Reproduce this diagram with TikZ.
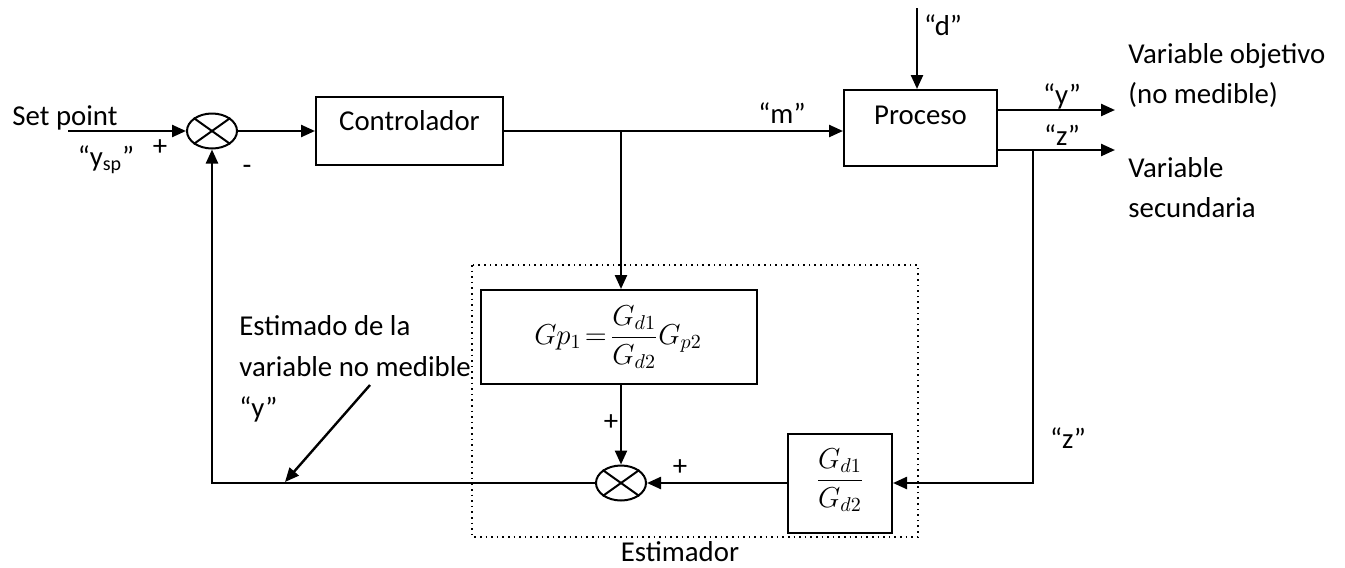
\documentclass[tikz,border=0pt]{standalone}
\usepackage{amsmath}
\usepackage{fontspec}
\setmainfont{Carlito}
\usetikzlibrary{arrows.meta,shapes.geometric}

\tikzset{
  bloque/.style={draw, line width=1pt, rectangle, inner sep=0pt},
  suma/.style={draw, line width=1pt, ellipse, minimum width=25pt, minimum height=17.5pt, inner sep=0pt},
  senal/.style={line width=1.2pt},
  flecha/.style={senal, -{Triangle[length=7pt,width=6pt]}},
  texto/.style={font=\fontsize{14.4}{17}\selectfont, inner sep=0pt},
}

\begin{document}
\begin{tikzpicture}[x=0.5pt, y=-0.5pt]
    \useasboundingbox (0,0) rectangle (1345,568);

    % Bloques
    \node[bloque, minimum width=93.5pt, minimum height=34pt] (ctrl) at (409.5,131) {};
    \node[bloque, minimum width=76.5pt, minimum height=38pt] (proc) at (920.5,128) {};
    \node[bloque, minimum width=138pt, minimum height=47pt] (gp) at (619,337) {};
    \node[bloque, minimum width=52pt, minimum height=49.5pt] (gd) at (840,483) {};

    % Sumadores
    \node[suma] (s1) at (212,131) {};
    \node[suma] (s2) at (621,483) {};
    \draw[line width=1pt] (s1.north west) -- (s1.south east) (s1.north east) -- (s1.south west);
    \draw[line width=1pt] (s2.north west) -- (s2.south east) (s2.north east) -- (s2.south west);

    % Puntos auxiliares
    \coordinate (sp) at (68,131);
    \coordinate (bm) at (621,131);
    \coordinate (dent) at (917,8);
    \coordinate (ysal) at (1115,110);
    \coordinate (zsal) at (1115,150);
    \coordinate (bz) at (1033,150);
    \coordinate (pt0) at (370,385);
    \coordinate (pt1) at (285,482);

    % Lazo principal
    \draw[flecha] (sp) -- (s1.west);
    \draw[flecha] (s1.east) -- (s1.east -| ctrl.west);
    \draw[flecha] (ctrl.east |- bm) -- (bm -| proc.west);
    \draw[flecha] (dent) -- (dent |- proc.north);
    \draw[flecha] (proc.east |- ysal) -- (ysal);
    \draw[flecha] (proc.east |- zsal) -- (zsal);

    % Estimador
    \draw[flecha] (bm) -- (bm |- gp.north);
    \draw[flecha] (gp.south -| s2) -- (s2.north);
    \draw[flecha] (bz) |- (gd.east);
    \draw[flecha] (gd.west) -- (s2.east);
    \draw[flecha] (s2.west) -| (s1.south);
    \draw[flecha] (pt0) -- (pt1);
    \draw[dotted, line width=0.8pt] (472,265) rectangle (918,537);

    % Textos
    \node[texto] (ctrltxt) at (409.5,121) {Controlador};
    \node[texto] (proctxt) at (920.5,115) {Proceso};
    \node[texto] (gptxt) at (618,337) {$Gp_1\!=\!\dfrac{G_{d1}}{G_{d2}}G_{p2}$};
    \node[texto] (gdtxt) at (840,480) {$\dfrac{G_{d1}}{G_{d2}}$};
    \node[texto] (setp) at (65,118) {Set point};
    \node[texto] (ysp) at (106,160) {“y\textsubscript{sp}”};
    \node[texto] (mas1) at (160,148) {+};
    \node[texto] (menos1) at (247,170) {-};
    \node[texto] (mtxt) at (782,113) {“m”};
    \node[texto] (dtxt) at (943,25) {“d”};
    \node[texto] (ytxt) at (1062,96) {“y”};
    \node[texto] (ztxt) at (1062,135) {“z”};
    \node[texto, anchor=west, align=left, font=\fontsize{14.4}{20}\selectfont] (vobj) at (1128,75) {Variable objetivo\\(no medible)};
    \node[texto, anchor=west, align=left, font=\fontsize{14.4}{20}\selectfont] (vsec) at (1128,188) {Variable\\secundaria};
    \node[texto, anchor=west, align=left, font=\fontsize{14.4}{20.5}\selectfont] (estim) at (239,369) {Estimado de la\\variable no medible\\“y”};
    \node[texto] (zfb) at (1068,438) {“z”};
    \node[texto] (mas2) at (611,423) {+};
    \node[texto] (mas3) at (680,468) {+};
    \node[texto] (esttxt) at (680,552) {Estimador};
\end{tikzpicture}
\end{document}
